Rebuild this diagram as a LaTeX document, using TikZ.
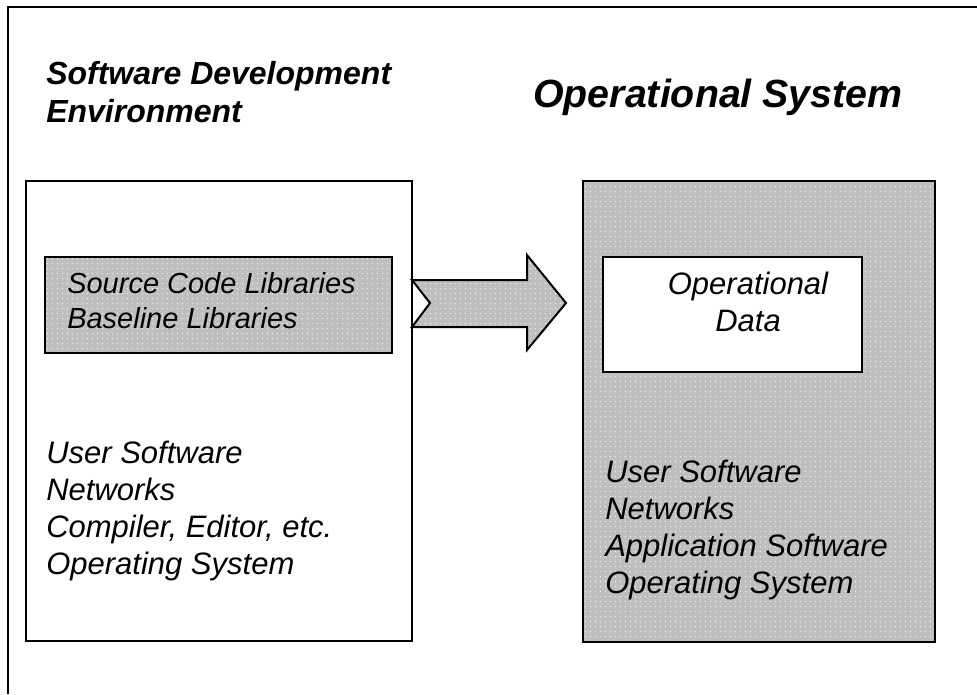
\documentclass[tikz,border=0pt]{standalone}
\usepackage{fontspec}
\setmainfont{Liberation Sans}
\usetikzlibrary{patterns.meta}
\usetikzlibrary{fit}
\colorlet{dotfill}{black!25}
\colorlet{dotcol}{white!80!dotfill}
\tikzset{box/.style = {shape=rectangle,draw,line width=1.5pt,inner sep=0pt}}
\tikzset{dotbox/.style = {box,preaction={fill=dotfill},pattern={Dots[distance=4pt,radius=0.55pt]},pattern color=dotcol}}
\tikzset{title/.style = {inner sep=0pt,align=left,font=\bfseries\itshape\fontsize{24}{28.5}\selectfont}}
\tikzset{body/.style = {inner sep=0pt,align=left,font=\itshape\fontsize{23.25}{27.75}\selectfont}}

\begin{document}
\begin{tikzpicture}[x=0.75pt,y=-0.75pt]
                \useasboundingbox (0,0) rectangle (977,694);
                \draw[line width=1pt] (8,694) -- (8,7) -- (977,7);

                \node[box,fit={(26,181) (412,641)}] (devenv) {};
                \node[dotbox,fit={(583,181) (935,642)}] (opsys) {};
                \node[dotbox,fit={(45,257) (392,353)}] (srclib) {};
                \node[box,fill=white,fit={(603,257) (862,372)}] (opdata) {};

                \draw[dotbox,line join=miter] (412,280) -- (527,280) -- (527,255) -- (566,303)
                    -- (527,350) -- (527,327) -- (412,327) -- (430,303) -- cycle;

                \node[title,anchor=north west] (devtitle) at (46,61) {Software Development\\Environment};
                \node[title,anchor=north west,font=\bfseries\itshape\fontsize{29.5}{34}\selectfont] (optitle) at (533,79) {Operational System};

                \node[body,anchor=north west,font=\itshape\fontsize{21.75}{26.25}\selectfont] (srctext) at (67,272) {Source Code Libraries\\Baseline Libraries};
                \node[body,anchor=north,align=center] (datatext) at (748,272) {Operational\\Data};

                \node[body,anchor=north west] (devtext) at (46,441) {User Software\\Networks\\Compiler, Editor, etc.\\Operating System};
                \node[body,anchor=north west] (optext) at (605,460) {User Software\\Networks\\Application Software\\Operating System};
            \end{tikzpicture}
\end{document}
